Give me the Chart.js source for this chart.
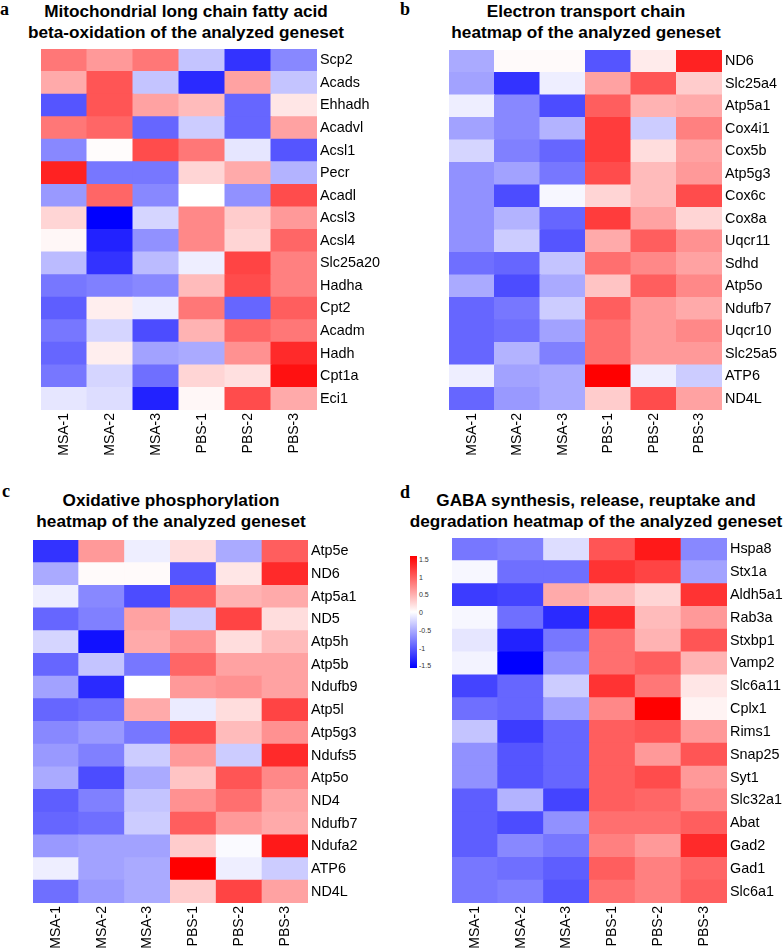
<!DOCTYPE html>
<html>
<head>
<meta charset="utf-8">
<script src="https://cdn.jsdelivr.net/npm/chart.js@4.4.0/dist/chart.umd.min.js"></script>
<style>
  body { margin: 0; width: 784px; height: 952px; background: #fff; position: relative; overflow: hidden;
         font-family: "Liberation Sans", Arial, sans-serif; }
  .letter { position: absolute; font-family: "Liberation Serif", "Times New Roman", serif; font-weight: bold;
            font-size: 18px; line-height: 19px; }
  .title { position: absolute; font-weight: bold; font-size: 17.2px; line-height: 21px; text-align: center;
           white-space: nowrap; transform: translateX(-50%); color: #000; }
  canvas { position: absolute; }
  #cbar { position: absolute; left: 410px; top: 556px; width: 7px; height: 112px;
          background: linear-gradient(to bottom, #ff0000, #ffffff, #0000ff); }
  .cb { position: absolute; left: 419px; font-size: 7px; line-height: 8px; color: #333; }
</style>
</head>
<body>
<div class="letter" style="left:0px;top:0px">a</div>
<div class="letter" style="left:400px;top:0px">b</div>
<div class="letter" style="left:2px;top:482px">c</div>
<div class="letter" style="left:400px;top:483px">d</div>

<div class="title" style="left:186px;top:1px">Mitochondrial long chain fatty acid<br>beta-oxidation of the analyzed geneset</div>
<div class="title" style="left:586px;top:1px">Electron transport chain<br>heatmap of the analyzed geneset</div>
<div class="title" style="left:171px;top:490px">Oxidative phosphorylation<br>heatmap of the analyzed geneset</div>
<div class="title" style="left:596px;top:490px">GABA synthesis, release, reuptake and<br>degradation heatmap of the analyzed geneset</div>

<canvas id="chartA"></canvas>
<canvas id="chartB"></canvas>
<canvas id="chartC"></canvas>
<canvas id="chartD"></canvas>
<div id="cbar"></div>

<script>
// Образцы (столбцы)
const samples = ["MSA-1", "MSA-2", "MSA-3", "PBS-1", "PBS-2", "PBS-3"];

// Шкала легенды
const legendTicks = [1.5, 1, 0.5, 0, -0.5, -1, -1.5];

// a — бета-окисление жирных кислот
const genesA = ["Scp2", "Acads", "Ehhadh", "Acadvl", "Acsl1", "Pecr", "Acadl", "Acsl3",
  "Acsl4", "Slc25a20", "Hadha", "Cpt2", "Acadm", "Hadh", "Cpt1a", "Eci1"];
const valuesA = [
  [0.8, 0.6, 0.8, -0.35, -1.2, -0.7],
  [0.5, 1.0, -0.35, -1.25, 0.55, -0.35],
  [-1.0, 1.0, 0.55, 0.4, -0.9, 0.15],
  [0.8, 0.9, -0.9, -0.3, -0.9, 0.55],
  [-0.7, 0.02, 1.05, 0.8, -0.15, -1.0],
  [1.3, -0.8, -0.8, 0.25, 0.5, -0.45],
  [-0.6, 0.9, -0.7, 0.0, -0.65, 1.05],
  [0.25, -1.5, -0.25, 0.7, 0.3, 0.6],
  [0.05, -1.3, -0.65, 0.7, 0.25, 0.9],
  [-0.4, -1.2, -0.4, -0.1, 1.1, 0.75],
  [-0.8, -0.75, -0.7, 0.4, 1.05, 0.75],
  [-0.95, 0.1, -0.1, 0.8, -0.9, 0.95],
  [-0.8, -0.25, -1.05, 0.45, 0.9, 0.8],
  [-0.9, 0.1, -0.55, -0.5, 0.65, 1.25],
  [-0.8, -0.25, -0.85, 0.25, 0.18, 1.4],
  [-0.15, -0.2, -1.3, 0.05, 1.05, 0.5],
];

// b — дыхательная цепь
const genesB = ["ND6", "Slc25a4", "Atp5a1", "Cox4i1", "Cox5b", "Atp5g3", "Cox6c", "Cox8a",
  "Uqcr11", "Sdhd", "Atp5o", "Ndufb7", "Uqcr10", "Slc25a5", "ATP6", "ND4L"];
const valuesB = [
  [-0.5, 0.03, 0.03, -1.0, 0.12, 1.3],
  [-0.55, -1.2, -0.1, 0.55, 1.0, 0.3],
  [-0.1, -0.7, -1.05, 0.95, 0.45, 0.5],
  [-0.55, -0.7, -0.45, 1.15, -0.3, 0.75],
  [-0.25, -0.75, -0.9, 1.15, 0.2, 0.55],
  [-0.65, -0.55, -0.8, 1.05, 0.4, 0.6],
  [-0.65, -1.05, -0.05, 0.25, 0.4, 1.05],
  [-0.65, -0.45, -0.9, 1.15, 0.55, 0.25],
  [-0.65, -0.3, -1.0, 0.5, 0.95, 0.65],
  [-0.85, -0.9, -0.35, 0.85, 0.7, 0.55],
  [-0.5, -1.05, -0.5, 0.35, 0.95, 0.7],
  [-0.9, -0.8, -0.3, 0.95, 0.6, 0.5],
  [-0.9, -0.85, -0.55, 0.85, 0.6, 0.7],
  [-0.9, -0.45, -0.75, 0.85, 0.6, 0.6],
  [-0.1, -0.55, -0.5, 1.5, -0.1, -0.3],
  [-0.9, -0.6, -0.5, 0.3, 1.05, 0.55],
];

// c — окислительное фосфорилирование
const genesC = ["Atp5e", "ND6", "Atp5a1", "ND5", "Atp5h", "Atp5b", "Ndufb9", "Atp5l",
  "Atp5g3", "Ndufs5", "Atp5o", "ND4", "Ndufb7", "Ndufa2", "ATP6", "ND4L"];
const valuesC = [
  [-1.2, 0.6, -0.1, 0.2, -0.5, 0.95],
  [-0.5, 0.03, 0.03, -1.0, 0.15, 1.25],
  [-0.1, -0.7, -1.05, 0.95, 0.45, 0.5],
  [-0.9, -0.75, 0.55, -0.3, 1.1, 0.2],
  [-0.25, -1.4, 0.5, 0.65, 0.2, 0.4],
  [-0.9, -0.35, -0.8, 0.9, 0.55, 0.55],
  [-0.55, -1.25, 0.0, 0.6, 0.65, 0.55],
  [-0.9, -0.85, 0.5, -0.12, 0.2, 1.1],
  [-0.7, -0.6, -0.8, 1.05, 0.4, 0.65],
  [-0.6, -0.75, -0.3, 0.6, -0.3, 1.25],
  [-0.5, -1.05, -0.5, 0.35, 1.0, 0.7],
  [-0.95, -0.75, -0.35, 0.65, 0.85, 0.55],
  [-0.9, -0.85, -0.3, 0.95, 0.6, 0.5],
  [-0.6, -0.55, -0.55, 0.3, -0.03, 1.35],
  [-0.1, -0.55, -0.5, 1.5, -0.1, -0.3],
  [-0.85, -0.6, -0.5, 0.3, 1.1, 0.55],
];

// d — ГАМК
const genesD = ["Hspa8", "Stx1a", "Aldh5a1", "Rab3a", "Stxbp1", "Vamp2", "Slc6a11", "Cplx1",
  "Rims1", "Snap25", "Syt1", "Slc32a1", "Abat", "Gad2", "Gad1", "Slc6a1"];
const valuesD = [
  [-0.8, -0.75, -0.2, 1.0, 1.35, -0.7],
  [-0.05, -0.85, -0.85, 1.2, 1.1, -0.55],
  [-1.15, -1.1, 0.5, 0.4, 0.25, 1.2],
  [-0.05, -0.85, -1.25, 1.25, 0.4, 0.6],
  [-0.15, -1.3, -0.8, 0.85, 0.45, 1.0],
  [-0.07, -1.5, -0.65, 0.85, 0.95, 0.45],
  [-1.1, -0.9, -0.3, 1.2, 0.8, 0.15],
  [-0.85, -0.9, -0.55, 0.7, 1.5, 0.07],
  [-0.35, -1.15, -0.9, 0.95, 1.0, 0.6],
  [-0.65, -1.0, -0.9, 0.95, 0.6, 1.0],
  [-0.65, -1.0, -0.9, 0.95, 1.05, 0.6],
  [-0.95, -0.45, -1.1, 0.95, 0.9, 0.7],
  [-0.95, -1.05, -0.65, 0.85, 0.85, 0.95],
  [-0.95, -0.7, -0.8, 0.75, 0.6, 1.25],
  [-0.8, -0.85, -0.95, 0.95, 0.75, 0.9],
  [-0.8, -0.75, -1.0, 0.85, 0.75, 0.95],
];

const FONT = "'Liberation Sans', Arial, sans-serif";
const AXIS_W = 70;  // ширина подписей генов справа
const AXIS_H = 48;  // высота подписей образцов снизу

// Цвет ячейки: синий (-1.5) — белый (0) — красный (1.5)
function zColor(z) {
  const t = Math.max(-1, Math.min(1, z / 1.5));
  if (t >= 0) {
    const c = Math.round(255 * (1 - t));
    return `rgb(255,${c},${c})`;
  }
  const c = Math.round(255 * (1 + t));
  return `rgb(${c},${c},255)`;
}

// Построение тепловой карты на stacked bar
function makeHeatmap(id, genes, values, left, top, w, h) {
  const canvas = document.getElementById(id);
  canvas.width = w + AXIS_W;
  canvas.height = h + AXIS_H;
  canvas.style.left = left + "px";
  canvas.style.top = top + "px";
  const n = genes.length;

  // нижняя строка — первый набор данных
  const datasets = [];
  for (let r = n - 1; r >= 0; r--) {
    datasets.push({
      label: genes[r],
      data: samples.map(() => 1),
      backgroundColor: values[r].map(zColor),
      borderWidth: 0,
      barPercentage: 1,
      categoryPercentage: 1,
      inflateAmount: 0.5,
    });
  }

  new Chart(canvas.getContext("2d"), {
    type: "bar",
    data: { labels: samples, datasets: datasets },
    options: {
      responsive: false,
      animation: false,
      devicePixelRatio: 1,
      layout: { padding: 0 },
      plugins: { legend: { display: false }, tooltip: { enabled: false } },
      scales: {
        x: {
          stacked: true,
          grid: { display: false, drawTicks: false, tickLength: 0 },
          border: { display: false },
          ticks: { minRotation: 90, maxRotation: 90, color: "#000", padding: 3,
                   font: { family: FONT, size: 14 } },
          afterFit: (s) => { s.height = AXIS_H; s.paddingLeft = 0; s.paddingRight = 0; },
        },
        y: {
          stacked: true,
          position: "right",
          min: 0,
          max: n,
          grid: { display: false, drawTicks: false, tickLength: 0 },
          border: { display: false },
          afterBuildTicks: (s) => { s.ticks = genes.map((g, i) => ({ value: n - i - 0.5 })); },
          ticks: { autoSkip: false, color: "#000", padding: 3,
                   font: { family: FONT, size: 14.4 },
                   callback: (v) => genes[n - 1 - Math.floor(v)] },
          afterFit: (s) => { s.width = AXIS_W; s.paddingTop = 0; s.paddingBottom = 0; },
        },
      },
    },
  });
}

makeHeatmap("chartA", genesA, valuesA, 41, 49, 276, 361);
makeHeatmap("chartB", genesB, valuesB, 449, 50, 273, 360);
makeHeatmap("chartC", genesC, valuesC, 33, 540, 275, 363);
makeHeatmap("chartD", genesD, valuesD, 452, 538, 275, 365);

// Легенда цветовой шкалы
legendTicks.forEach((t, i) => {
  const d = document.createElement("div");
  d.className = "cb";
  d.textContent = String(t);
  d.style.top = (556 + i * 17.7) + "px";
  document.body.appendChild(d);
});
</script>
</body>
</html>
